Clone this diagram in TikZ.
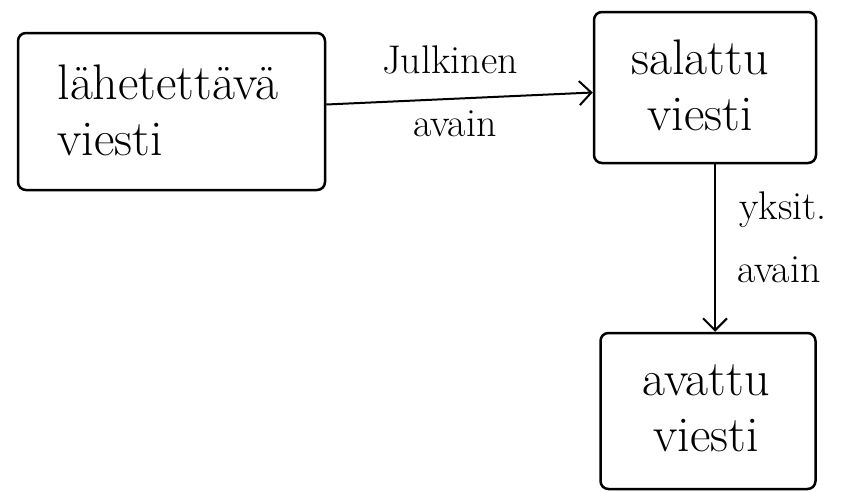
\documentclass[tikz,border=0pt]{standalone}
\usetikzlibrary{arrows.meta}
\begin{document}
\begin{tikzpicture}[x=1pt,y=-1pt,
  box/.style={draw,line width=2.5pt,rounded corners=8pt,inner sep=0pt},
  boxtext/.style={font=\fontsize{50}{56}\selectfont},
  lab/.style={font=\fontsize{40}{44}\selectfont},
  conn/.style={line width=2pt,-{Straight Barb[length=12pt,width=24pt,line width=2pt]}}]
\useasboundingbox (0,0) rectangle (844,493);
\node[box, minimum width=307pt, minimum height=157pt] (send) at (171.5,111.5) {};
\node[box, minimum width=222pt, minimum height=151pt] (enc) at (705,87.5) {};
\node[box, minimum width=215pt, minimum height=156pt] (dec) at (708,411) {};
\node[boxtext, align=left] (sendtxt) at (168,110) {lähetettävä\\viesti};
\node[boxtext, align=center] (enctxt) at (700,85) {salattu\\viesti};
\node[boxtext, align=center] (dectxt) at (706,408) {avattu\\viesti};
\draw[conn] ([yshift=7pt]send.east) -- ([yshift=-5pt]enc.west);
\node[lab] (pub1) at (450,60) {Julkinen};
\node[lab] (pub2) at (455,124) {avain};
\draw[conn] ([xshift=10pt]enc.south) -- ([xshift=7pt]dec.north);
\node[lab] (priv1) at (783,210) {yksit.};
\node[lab] (priv2) at (779,270) {avain};
\end{tikzpicture}
\end{document}
